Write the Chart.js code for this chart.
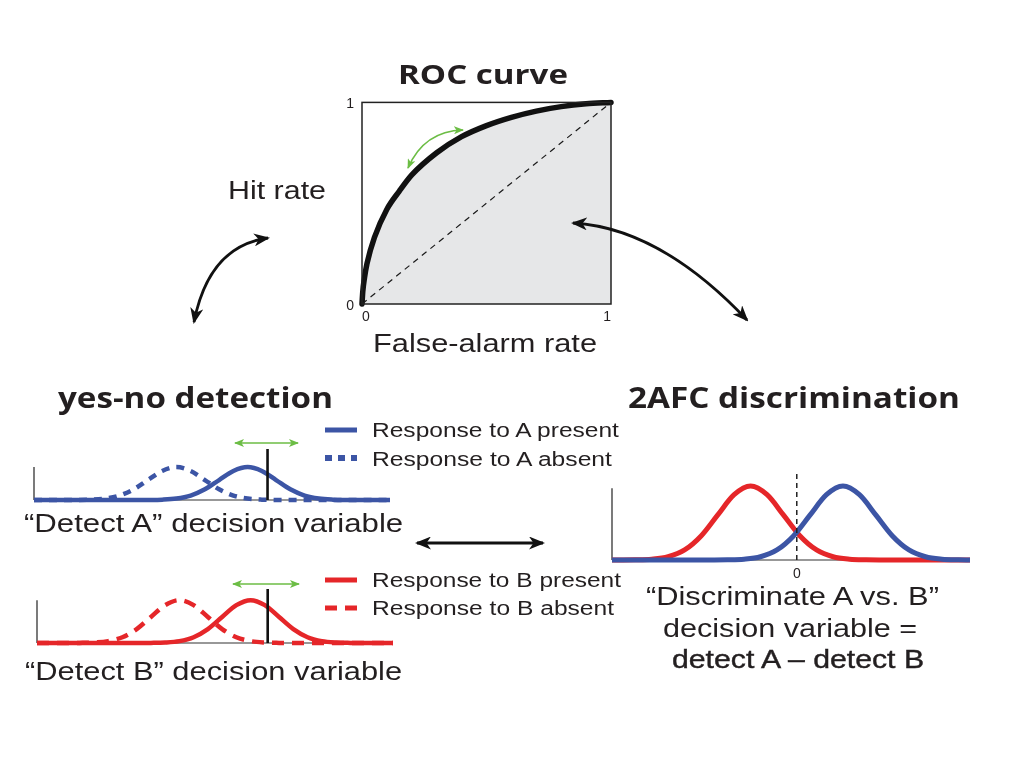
<!DOCTYPE html>
<html>
<head>
<meta charset="utf-8">
<title>ROC curve, yes-no detection and 2AFC discrimination</title>
<script src="https://cdn.jsdelivr.net/npm/chart.js"></script>
<style>
    body {
        margin: 0;
        width: 1024px;
        height: 768px;
        background: #ffffff;
        position: relative;
        overflow: hidden;
        font-family: 'Liberation Sans', Arial, sans-serif;
        color: #231f20;
    }

    canvas {
        position: absolute;
    }

    .lbl {
        position: absolute;
        white-space: nowrap;
        line-height: 1;
    }

    .bold {
        font-family: 'Open Sans', sans-serif;
        font-weight: 700;
    }

    svg {
        position: absolute;
        left: 0;
        top: 0;
        pointer-events: none;
    }
</style>
</head>
<body>

<!-- ROC panel -->
<canvas id="rocChart" width="290" height="250" style="left:330px;top:86px"></canvas>
<!-- yes-no detection panels -->
<canvas id="detectAChart" width="376" height="71" style="left:24px;top:439px"></canvas>
<canvas id="detectBChart" width="376" height="74" style="left:27px;top:579px"></canvas>
<!-- 2AFC panel -->
<canvas id="afcChart" width="378" height="119" style="left:602px;top:463px"></canvas>

<svg width="1024" height="768" viewBox="0 0 1024 768">
    <defs>
        <marker id="headK" viewBox="0 0 16 13" refX="14" refY="6.5" markerWidth="16" markerHeight="13"
                markerUnits="userSpaceOnUse" orient="auto-start-reverse">
            <path d="M0,0 L16,6.5 L0,13 L4.5,6.5 z" fill="#111"/>
        </marker>
        <marker id="headG" viewBox="0 0 10 8" refX="9" refY="4" markerWidth="10" markerHeight="8"
                markerUnits="userSpaceOnUse" orient="auto-start-reverse">
            <path d="M0,0 L10,4 L0,8 L2.5,4 z" fill="#6cbd45"/>
        </marker>
    </defs>
    <!-- black connecting arrows -->
    <path d="M194,322 Q209,246 268,238" fill="none" stroke="#111" stroke-width="2.8"
          marker-start="url(#headK)" marker-end="url(#headK)"/>
    <path d="M573,223 Q660,228 747,320" fill="none" stroke="#111" stroke-width="2.8"
          marker-start="url(#headK)" marker-end="url(#headK)"/>
    <path d="M417,543 L543,543" fill="none" stroke="#111" stroke-width="2.8"
          marker-start="url(#headK)" marker-end="url(#headK)"/>
    <!-- green criterion-shift arrows -->
    <path d="M408,168 Q424,131 463,130" fill="none" stroke="#6cbd45" stroke-width="1.7"
          marker-start="url(#headG)" marker-end="url(#headG)"/>
    <path d="M235,443 L298,443" fill="none" stroke="#6cbd45" stroke-width="1.7"
          marker-start="url(#headG)" marker-end="url(#headG)"/>
    <path d="M233,584 L299,584" fill="none" stroke="#6cbd45" stroke-width="1.7"
          marker-start="url(#headG)" marker-end="url(#headG)"/>
    <!-- legend keys -->
    <line x1="325" y1="430" x2="357" y2="430" stroke="#3c55a5" stroke-width="5"/>
    <line x1="325" y1="458" x2="357" y2="458" stroke="#3c55a5" stroke-width="6" stroke-dasharray="7 6"/>
    <line x1="325" y1="580" x2="357" y2="580" stroke="#e52629" stroke-width="5"/>
    <line x1="325" y1="608" x2="357" y2="608" stroke="#e52629" stroke-width="5" stroke-dasharray="12 8"/>
</svg>

<script>
    // ---- ROC curve (false-alarm rate vs hit rate) ----
    const rocFalseAlarm = [0, 0.003, 0.01, 0.02, 0.05, 0.1, 0.15, 0.2, 0.3, 0.4, 0.5, 0.6, 0.7, 0.8, 0.9, 1];
    const rocHit = [0, 0.06, 0.13, 0.2, 0.33, 0.47, 0.56, 0.64, 0.75, 0.83, 0.885, 0.926, 0.957, 0.979, 0.993, 1];
    const rocChance = [0, 1];
    const rocTicks = [0, 1];
    const rocTickLabels = ['0', '1'];

    // ---- yes-no detection: decision variable grid and response densities ----
    const detectX = [0, 0.5, 1, 1.5, 2, 2.5, 3, 3.5, 4, 4.5, 5, 5.5, 6, 6.5, 7, 7.5, 8, 8.5, 9, 9.5, 10, 10.5, 11, 11.5, 12, 12.5];
    const presentDensity = [0, 0, 0, 0, 0, 0, 0, 0.0003, 0.0022, 0.0111, 0.0439, 0.1353, 0.3247, 0.6065, 0.8825, 1,
        0.8825, 0.6065, 0.3247, 0.1353, 0.0439, 0.0111, 0.0022, 0.0003, 0, 0];
    const absentDensity = [0, 0, 0.0003, 0.0022, 0.0111, 0.0439, 0.1353, 0.3247, 0.6065, 0.8825, 1, 0.8825,
        0.6065, 0.3247, 0.1353, 0.0439, 0.0111, 0.0022, 0.0003, 0, 0, 0, 0, 0, 0, 0];
    const criterionA = 8.2;
    const criterionB = 8.1;
    const detectAxisTop = 1;

    // ---- 2AFC: "detect A - detect B" densities ----
    const afcRedX = [-5.6, -5.4, -4.9, -4.4, -3.9, -3.4, -2.9, -2.4, -1.9, -1.4, -0.9, -0.4, 0.1, 0.6, 1.1, 1.6, 2.1, 2.6, 3.1, 5.25];
    const afcRedY = [0, 0.0003, 0.0022, 0.0111, 0.0439, 0.1353, 0.3247, 0.6065, 0.8825, 1, 0.8825, 0.6065, 0.3247, 0.1353, 0.0439, 0.0111, 0.0022, 0.0003, 0, 0];
    const afcBlueX = [-5.6, -3.1, -2.6, -2.1, -1.6, -1.1, -0.6, -0.1, 0.4, 0.9, 1.4, 1.9, 2.4, 2.9, 3.4, 3.9, 4.4, 4.9, 5.25];
    const afcBlueY = [0, 0, 0.0003, 0.0022, 0.0111, 0.0439, 0.1353, 0.3247, 0.6065, 0.8825, 1, 0.8825, 0.6065, 0.3247, 0.1353, 0.0439, 0.0111, 0.0022, 0.0005];
    const afcTicks = [0];
    const afcTickLabels = ['0'];
    const afcAxisTop = 0.97;

    const BLUE = '#3c55a5';
    const RED = '#e52629';
    const INK = '#1a1a1a';

    Chart.defaults.font.family = "'Liberation Sans', Arial, sans-serif";
    Chart.defaults.color = '#231f20';

    const pts = (xs, ys) => xs.map((x, i) => ({x: x, y: ys[i]}));

    function curve(xs, ys, color, width, dash, order) {
        return {
            data: pts(xs, ys),
            borderColor: color,
            borderWidth: width,
            borderDash: dash || [],
            cubicInterpolationMode: 'monotone',
            pointRadius: 0,
            fill: false,
            clip: false,
            order: order
        };
    }

    function segment(x0, y0, x1, y1, color, width, dash, order) {
        return {
            data: [{x: x0, y: y0}, {x: x1, y: y1}],
            borderColor: color,
            borderWidth: width,
            borderDash: dash || [],
            pointRadius: 0,
            fill: false,
            clip: false,
            order: order
        };
    }

    function hiddenScales(xmin, xmax, ymax) {
        return {
            x: {type: 'linear', min: xmin, max: xmax, display: false},
            y: {type: 'linear', min: 0, max: ymax, display: false}
        };
    }

    const common = {
        responsive: false,
        animation: false,
        events: [],
        plugins: {legend: {display: false}, tooltip: {enabled: false}}
    };

    // closed box round the ROC plot area, drawn above the grey fill
    const boxFrame = {
        id: 'boxFrame',
        afterDatasetsDraw(chart) {
            const a = chart.chartArea;
            const ctx = chart.ctx;
            ctx.save();
            ctx.strokeStyle = '#222';
            ctx.lineWidth = 1.5;
            ctx.strokeRect(a.left, a.top, a.right - a.left, a.bottom - a.top);
            ctx.restore();
        }
    };

    // ROC chart
    new Chart(document.getElementById('rocChart'), {
        type: 'line',
        data: {
            datasets: [
                segment(rocChance[0], rocChance[0], rocChance[1], rocChance[1], INK, 1.2, [6, 5], 0),
                Object.assign(curve(rocFalseAlarm, rocHit, '#111', 5.5, null, 1), {
                    fill: 'origin',
                    backgroundColor: '#e6e7e8',
                    borderCapStyle: 'round'
                })
            ]
        },
        plugins: [boxFrame],
        options: Object.assign({}, common, {
            layout: {padding: {left: 12, top: 10, right: 9, bottom: 10}},
            scales: {
                x: {
                    type: 'linear', min: 0, max: 1, position: 'bottom',
                    grid: {display: false, drawTicks: false},
                    border: {display: false},
                    afterBuildTicks: s => { s.ticks = rocTicks.map(v => ({value: v})); },
                    afterFit: s => { s.height = 22; },
                    ticks: {
                        align: 'inner', padding: 5, font: {size: 14},
                        callback: (v, i) => rocTickLabels[i]
                    }
                },
                y: {
                    type: 'linear', min: 0, max: 1, position: 'left',
                    grid: {display: false, drawTicks: false},
                    border: {display: false},
                    afterBuildTicks: s => { s.ticks = rocTicks.map(v => ({value: v})); },
                    afterFit: s => { s.width = 20; },
                    ticks: {
                        padding: 8, font: {size: 14}, labelOffset: 2,
                        callback: (v, i) => rocTickLabels[i]
                    }
                }
            }
        })
    });

    // yes-no panels
    function detectChart(id, color, dash, criterion, ymax) {
        const xmin = detectX[0];
        const xmax = detectX[detectX.length - 1];
        new Chart(document.getElementById(id), {
            type: 'line',
            data: {
                datasets: [
                    segment(criterion, 0, criterion, ymax, '#111', 2.6, null, 0),
                    curve(detectX, presentDensity, color, 4.5, null, 1),
                    curve(detectX, absentDensity, color, 4.5, dash, 2),
                    segment(xmin, 0, xmin, detectAxisTop, '#222', 1.2, null, 3),
                    segment(xmin, 0, xmax, 0, '#333', 1.2, null, 4)
                ]
            },
            options: Object.assign({}, common, {
                layout: {padding: 10},
                scales: hiddenScales(xmin, xmax, ymax)
            })
        });
    }

    detectChart('detectAChart', BLUE, [8, 7], criterionA, 1.55);
    detectChart('detectBChart', RED, [12, 8], criterionB, 1.26);

    // 2AFC panel
    new Chart(document.getElementById('afcChart'), {
        type: 'line',
        data: {
            datasets: [
                segment(0, 0, 0, 1.176, '#222', 1.5, [5, 4], 0),
                curve(afcBlueX, afcBlueY, BLUE, 5, null, 1),
                curve(afcRedX, afcRedY, RED, 5, null, 2),
                segment(afcRedX[0], 0, afcRedX[0], afcAxisTop, '#222', 1.2, null, 3),
                segment(afcRedX[0], 0, afcBlueX[afcBlueX.length - 1], 0, '#333', 1.2, null, 4)
            ]
        },
        options: Object.assign({}, common, {
            layout: {padding: {top: 10, left: 10, right: 10, bottom: 2}},
            scales: {
                x: {
                    type: 'linear', min: -5.6, max: 5.25, position: 'bottom',
                    grid: {display: false, drawTicks: false},
                    border: {display: false},
                    afterBuildTicks: s => { s.ticks = afcTicks.map(v => ({value: v})); },
                    afterFit: s => { s.height = 20; },
                    ticks: {padding: 6, font: {size: 14}, callback: (v, i) => afcTickLabels[i]}
                },
                y: {type: 'linear', min: 0, max: 1.176, display: false}
            }
        })
    });

    // ---- text labels (x, centre y, target width) ----
    const labels = [
        {text: 'ROC curve', x: 398, y: 73, w: 170, size: 27, bold: true},
        {text: 'Hit rate', x: 228, y: 190, w: 98, size: 25},
        {text: 'False-alarm rate', x: 373, y: 343, w: 224, size: 25},
        {text: 'yes-no detection', x: 58, y: 397, w: 275, size: 28, bold: true},
        {text: '2AFC discrimination', x: 628, y: 397, w: 332, size: 28, bold: true},
        {text: 'Response to A present', x: 372, y: 430, w: 247, size: 20},
        {text: 'Response to A absent', x: 372, y: 459, w: 240, size: 20},
        {text: '\u201CDetect A\u201D decision variable', x: 24, y: 523, w: 379, size: 26},
        {text: 'Response to B present', x: 372, y: 580, w: 249, size: 20},
        {text: 'Response to B absent', x: 372, y: 608, w: 242, size: 20},
        {text: '\u201CDetect B\u201D decision variable', x: 25, y: 671, w: 377, size: 26},
        {text: '\u201CDiscriminate A vs. B\u201D', x: 792, y: 596, w: 293, size: 25, center: true},
        {text: 'decision variable =', x: 790, y: 628, w: 254, size: 25, center: true},
        {text: 'detect A \u2013 detect B', x: 798, y: 659, w: 252, size: 25, center: true, heavy: true}
    ];

    labels.forEach(t => {
        const el = document.createElement('div');
        el.className = 'lbl' + (t.bold ? ' bold' : '');
        el.textContent = t.text;
        el.style.fontSize = t.size + 'px';
        if (t.heavy) el.style.webkitTextStroke = '0.4px #231f20';
        document.body.appendChild(el);
        const r = el.getBoundingClientRect();
        const s = t.w / r.width;
        const left = t.center ? t.x - t.w / 2 : t.x;
        el.style.left = left + 'px';
        el.style.top = (t.y - r.height / 2) + 'px';
        el.style.transformOrigin = '0 50%';
        el.style.transform = 'scaleX(' + s.toFixed(3) + ')';
    });
</script>
</body>
</html>
